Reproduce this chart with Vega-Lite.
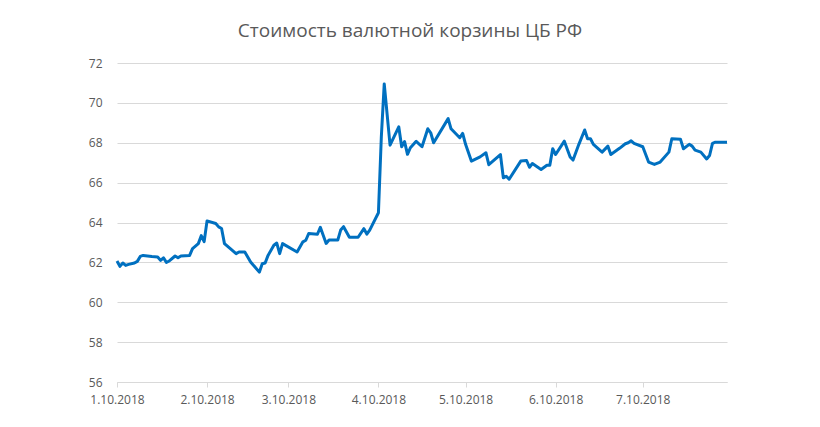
{
  "$schema": "https://vega.github.io/schema/vega-lite/v6.json",
  "width": 610,
  "height": 319,
  "autosize": {"type": "none"},
  "padding": {"left": 117, "top": 63, "right": 93, "bottom": 45},
  "background": "white",
  "title": {
    "text": "Стоимость валютной корзины ЦБ РФ",
    "font": "Open Sans",
    "fontSize": 19,
    "fontWeight": "normal",
    "color": "#595959",
    "anchor": "middle",
    "dx": -12,
    "baseline": "alphabetic",
    "offset": 1
  },
  "config": {
    "view": {"stroke": null},
    "axis": {"labelFont": "Open Sans", "labelFontSize": 12, "labelColor": "#595959"}
  },
  "data": {
    "values": [
      {"date": "2018-01-01", "value": 62.07},
      {"date": "2018-01-02", "value": 61.8},
      {"date": "2018-01-03", "value": 61.97},
      {"date": "2018-01-04", "value": 61.85},
      {"date": "2018-01-05", "value": 61.9},
      {"date": "2018-01-07", "value": 61.97},
      {"date": "2018-01-08", "value": 62.05},
      {"date": "2018-01-09", "value": 62.3},
      {"date": "2018-01-10", "value": 62.35},
      {"date": "2018-01-13", "value": 62.29},
      {"date": "2018-01-15", "value": 62.27},
      {"date": "2018-01-16", "value": 62.1},
      {"date": "2018-01-17", "value": 62.23},
      {"date": "2018-01-18", "value": 62.0},
      {"date": "2018-01-19", "value": 62.07},
      {"date": "2018-01-21", "value": 62.32},
      {"date": "2018-01-22", "value": 62.23},
      {"date": "2018-01-23", "value": 62.32},
      {"date": "2018-01-26", "value": 62.35},
      {"date": "2018-01-27", "value": 62.69},
      {"date": "2018-01-29", "value": 62.94},
      {"date": "2018-01-30", "value": 63.34},
      {"date": "2018-01-31", "value": 63.04},
      {"date": "2018-02-01", "value": 64.08},
      {"date": "2018-02-04", "value": 63.95},
      {"date": "2018-02-05", "value": 63.78},
      {"date": "2018-02-06", "value": 63.7},
      {"date": "2018-02-07", "value": 62.94},
      {"date": "2018-02-09", "value": 62.69},
      {"date": "2018-02-11", "value": 62.44},
      {"date": "2018-02-12", "value": 62.52},
      {"date": "2018-02-14", "value": 62.52},
      {"date": "2018-02-16", "value": 62.02},
      {"date": "2018-02-19", "value": 61.51},
      {"date": "2018-02-20", "value": 61.93},
      {"date": "2018-02-21", "value": 61.97},
      {"date": "2018-02-22", "value": 62.35},
      {"date": "2018-02-24", "value": 62.86},
      {"date": "2018-02-25", "value": 62.97},
      {"date": "2018-02-26", "value": 62.44},
      {"date": "2018-02-27", "value": 62.94},
      {"date": "2018-03-04", "value": 62.52},
      {"date": "2018-03-06", "value": 63.03},
      {"date": "2018-03-07", "value": 63.11},
      {"date": "2018-03-08", "value": 63.45},
      {"date": "2018-03-11", "value": 63.41},
      {"date": "2018-03-12", "value": 63.76},
      {"date": "2018-03-14", "value": 62.95},
      {"date": "2018-03-15", "value": 63.12},
      {"date": "2018-03-18", "value": 63.12},
      {"date": "2018-03-19", "value": 63.62},
      {"date": "2018-03-20", "value": 63.79},
      {"date": "2018-03-22", "value": 63.26},
      {"date": "2018-03-25", "value": 63.26},
      {"date": "2018-03-27", "value": 63.69},
      {"date": "2018-03-28", "value": 63.42},
      {"date": "2018-03-29", "value": 63.62},
      {"date": "2018-04-01", "value": 64.49},
      {"date": "2018-04-02", "value": 68.3},
      {"date": "2018-04-03", "value": 70.95},
      {"date": "2018-04-05", "value": 67.88},
      {"date": "2018-04-08", "value": 68.8},
      {"date": "2018-04-09", "value": 67.8},
      {"date": "2018-04-10", "value": 68.06},
      {"date": "2018-04-11", "value": 67.42},
      {"date": "2018-04-12", "value": 67.75},
      {"date": "2018-04-14", "value": 68.07},
      {"date": "2018-04-16", "value": 67.8},
      {"date": "2018-04-18", "value": 68.7},
      {"date": "2018-04-19", "value": 68.5},
      {"date": "2018-04-20", "value": 68.0},
      {"date": "2018-04-25", "value": 69.21},
      {"date": "2018-04-26", "value": 68.7},
      {"date": "2018-04-29", "value": 68.25},
      {"date": "2018-04-30", "value": 68.47},
      {"date": "2018-05-01", "value": 67.92},
      {"date": "2018-05-03", "value": 67.08},
      {"date": "2018-05-06", "value": 67.29},
      {"date": "2018-05-08", "value": 67.5},
      {"date": "2018-05-09", "value": 66.9},
      {"date": "2018-05-13", "value": 67.41},
      {"date": "2018-05-14", "value": 66.24},
      {"date": "2018-05-15", "value": 66.32},
      {"date": "2018-05-16", "value": 66.17},
      {"date": "2018-05-20", "value": 67.08},
      {"date": "2018-05-22", "value": 67.11},
      {"date": "2018-05-23", "value": 66.77},
      {"date": "2018-05-24", "value": 66.96},
      {"date": "2018-05-27", "value": 66.66},
      {"date": "2018-05-29", "value": 66.87},
      {"date": "2018-05-30", "value": 66.87},
      {"date": "2018-05-31", "value": 67.7},
      {"date": "2018-06-01", "value": 67.41},
      {"date": "2018-06-04", "value": 68.08},
      {"date": "2018-06-06", "value": 67.29},
      {"date": "2018-06-07", "value": 67.13},
      {"date": "2018-06-09", "value": 67.92},
      {"date": "2018-06-11", "value": 68.64},
      {"date": "2018-06-12", "value": 68.2},
      {"date": "2018-06-13", "value": 68.2},
      {"date": "2018-06-14", "value": 67.92},
      {"date": "2018-06-17", "value": 67.53},
      {"date": "2018-06-19", "value": 67.83},
      {"date": "2018-06-20", "value": 67.41},
      {"date": "2018-06-23", "value": 67.72},
      {"date": "2018-06-25", "value": 67.95},
      {"date": "2018-06-26", "value": 68.0},
      {"date": "2018-06-27", "value": 68.1},
      {"date": "2018-06-28", "value": 67.97},
      {"date": "2018-07-01", "value": 67.8},
      {"date": "2018-07-03", "value": 67.03},
      {"date": "2018-07-05", "value": 66.91},
      {"date": "2018-07-07", "value": 67.03},
      {"date": "2018-07-10", "value": 67.53},
      {"date": "2018-07-11", "value": 68.2},
      {"date": "2018-07-14", "value": 68.17},
      {"date": "2018-07-15", "value": 67.7},
      {"date": "2018-07-17", "value": 67.92},
      {"date": "2018-07-18", "value": 67.83},
      {"date": "2018-07-19", "value": 67.63},
      {"date": "2018-07-21", "value": 67.53},
      {"date": "2018-07-23", "value": 67.19},
      {"date": "2018-07-24", "value": 67.36},
      {"date": "2018-07-25", "value": 67.97},
      {"date": "2018-07-26", "value": 68.03},
      {"date": "2018-07-30", "value": 68.03}
    ]
  },
  "mark": {"type": "line", "color": "#0070C0", "strokeWidth": 3, "strokeJoin": "round"},
  "encoding": {
    "x": {
      "field": "date",
      "type": "temporal",
      "scale": {
        "type": "utc",
        "domain": [
          {"year": 2018, "month": 1, "date": 1, "utc": true},
          {"year": 2018, "month": 7, "date": 30, "utc": true}
        ]
      },
      "axis": {
        "title": null,
        "grid": false,
        "values": [
          {"year": 2018, "month": 1, "date": 1, "utc": true},
          {"year": 2018, "month": 2, "date": 1, "utc": true},
          {"year": 2018, "month": 3, "date": 1, "utc": true},
          {"year": 2018, "month": 4, "date": 1, "utc": true},
          {"year": 2018, "month": 5, "date": 1, "utc": true},
          {"year": 2018, "month": 6, "date": 1, "utc": true},
          {"year": 2018, "month": 7, "date": 1, "utc": true}
        ],
        "labelExpr": "(utcmonth(datum.value) + 1) + '.10.2018'",
        "domainColor": "#d9d9d9",
        "tickColor": "#d9d9d9",
        "tickSize": 5,
        "labelPadding": 7,
        "labelFlush": false,
        "labelOverlap": false
      }
    },
    "y": {
      "field": "value",
      "type": "quantitative",
      "scale": {"domain": [56, 72], "zero": false},
      "axis": {
        "title": null,
        "values": [56, 58, 60, 62, 64, 66, 68, 70, 72],
        "domain": false,
        "ticks": false,
        "gridColor": "#d9d9d9",
        "labelPadding": 15
      }
    }
  }
}
